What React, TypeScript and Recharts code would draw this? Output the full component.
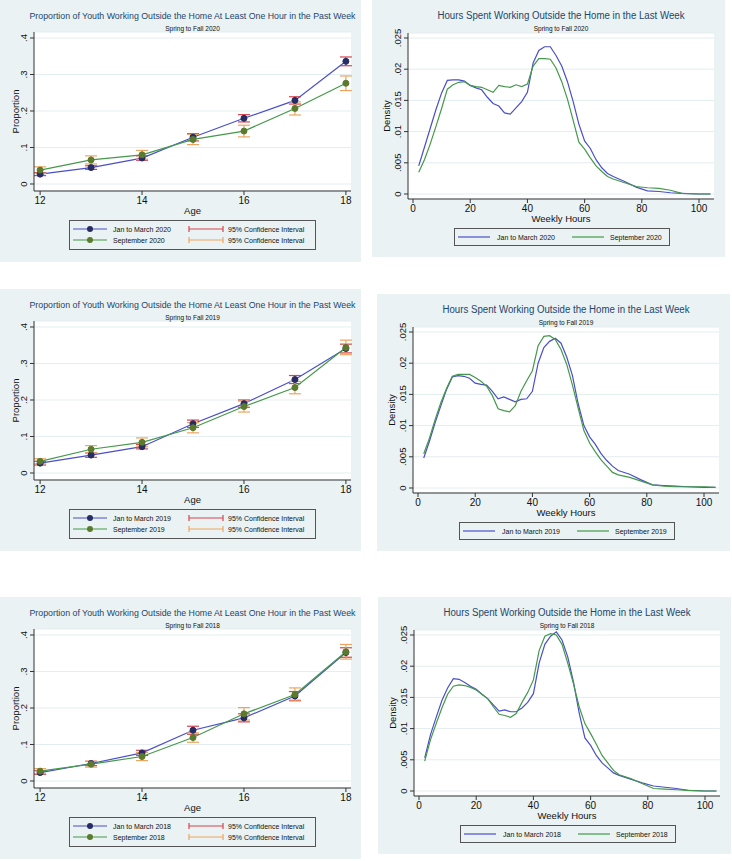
import React from 'react';
import { LineChart, Line, XAxis, YAxis, CartesianGrid, ErrorBar, Label } from 'recharts';

// ages on the x axis of the proportion panels
const AGES = [12, 13, 14, 15, 16, 17, 18];

// proportion working, with half-width of the 95% CI
const PROP_JAN_2020 = [0.027, 0.045, 0.071, 0.128, 0.18, 0.229, 0.336];
const CI_JAN_2020 = [0.004, 0.005, 0.006, 0.01, 0.01, 0.01, 0.012];
const PROP_SEP_2020 = [0.038, 0.066, 0.08, 0.122, 0.145, 0.207, 0.276];
const CI_SEP_2020 = [0.009, 0.011, 0.012, 0.014, 0.016, 0.018, 0.02];

const PROP_JAN_2019 = [0.027, 0.049, 0.072, 0.135, 0.19, 0.256, 0.341];
const CI_JAN_2019 = [0.005, 0.006, 0.006, 0.01, 0.01, 0.011, 0.012];
const PROP_SEP_2019 = [0.032, 0.065, 0.084, 0.124, 0.182, 0.234, 0.344];
const CI_SEP_2019 = [0.007, 0.01, 0.012, 0.014, 0.015, 0.017, 0.02];

const PROP_JAN_2018 = [0.023, 0.048, 0.077, 0.139, 0.173, 0.233, 0.352];
const CI_JAN_2018 = [0.005, 0.006, 0.007, 0.011, 0.011, 0.012, 0.013];
const PROP_SEP_2018 = [0.027, 0.046, 0.067, 0.119, 0.184, 0.237, 0.354];
const CI_SEP_2018 = [0.007, 0.008, 0.011, 0.013, 0.017, 0.018, 0.02];

// kernel density of weekly hours, read at these points
const HOURS = [2, 4, 6, 8, 10, 12, 14, 16, 18, 20, 22, 24, 26, 28, 30, 32, 34, 36, 38, 40, 42, 44, 46, 48, 50,
  52, 54, 56, 58, 60, 62, 64, 66, 68, 70, 74, 78, 82, 86, 90, 94, 100, 104];

const DENS_JAN_2020 = [0.0045, 0.0075, 0.0105, 0.0135, 0.0162, 0.0182, 0.0183, 0.0183, 0.0181, 0.0174, 0.017,
  0.0167, 0.0155, 0.0145, 0.0141, 0.013, 0.0128, 0.0138, 0.0148, 0.0163, 0.021, 0.023, 0.0236, 0.0236, 0.0222,
  0.0205, 0.018, 0.0148, 0.0112, 0.0085, 0.0073, 0.0055, 0.0042, 0.0033, 0.0028, 0.002, 0.0011, 0.0005, 0.0004,
  0.0002, 0.0001, 0, 0];
const DENS_SEP_2020 = [0.0035, 0.0055, 0.008, 0.0108, 0.0137, 0.0168, 0.0175, 0.0179, 0.018, 0.0174, 0.0172,
  0.0171, 0.0167, 0.0163, 0.0174, 0.0172, 0.0171, 0.0175, 0.0172, 0.0176, 0.0205, 0.0217, 0.0217, 0.0216, 0.0202,
  0.018, 0.0152, 0.0118, 0.0083, 0.0072, 0.0058, 0.0045, 0.0036, 0.0028, 0.0024, 0.0018, 0.0012, 0.001, 0.0009,
  0.0006, 0.0001, 0, 0];

const DENS_JAN_2019 = [0.0048, 0.0075, 0.0105, 0.0132, 0.0158, 0.0178, 0.018, 0.0179, 0.0176, 0.0168, 0.0166,
  0.0165, 0.0155, 0.0143, 0.0146, 0.0142, 0.0138, 0.0142, 0.0143, 0.0155, 0.02, 0.0225, 0.0235, 0.024, 0.0232,
  0.021, 0.018, 0.0135, 0.01, 0.0082, 0.007, 0.0055, 0.0044, 0.0035, 0.0028, 0.0022, 0.0013, 0.0005, 0.0004,
  0.0003, 0.0002, 0.0001, 0.0001];
const DENS_SEP_2019 = [0.0055, 0.008, 0.011, 0.0137, 0.016, 0.0179, 0.0182, 0.0182, 0.0182, 0.0177, 0.0171,
  0.0163, 0.0148, 0.0127, 0.0124, 0.0122, 0.0132, 0.0155, 0.0172, 0.0188, 0.0228, 0.0243, 0.0244, 0.0238, 0.0222,
  0.0198, 0.0165, 0.0128, 0.0092, 0.0072, 0.0058, 0.0045, 0.0035, 0.0025, 0.0021, 0.0017, 0.0011, 0.0005, 0.0003,
  0.0002, 0.0002, 0.0002, 0.0001];

const DENS_JAN_2018 = [0.0053, 0.009, 0.0118, 0.0145, 0.0165, 0.018, 0.0179, 0.0174, 0.0168, 0.0163, 0.0155,
  0.0148, 0.0138, 0.0128, 0.013, 0.0127, 0.0127, 0.0133, 0.0142, 0.0156, 0.0205, 0.0235, 0.0248, 0.0255, 0.0242,
  0.0215, 0.0175, 0.0125, 0.0085, 0.0073, 0.0057, 0.0045, 0.0037, 0.0029, 0.0025, 0.0019, 0.0013, 0.0008, 0.0006,
  0.0004, 0.0001, 0, 0];
const DENS_SEP_2018 = [0.0048, 0.0082, 0.0108, 0.0133, 0.0155, 0.0168, 0.017, 0.0169, 0.0166, 0.0162, 0.0155,
  0.0148, 0.0135, 0.0123, 0.0121, 0.0118, 0.0124, 0.0142, 0.0158, 0.0178, 0.0225, 0.0248, 0.0252, 0.025, 0.0235,
  0.0205, 0.0172, 0.0135, 0.0108, 0.0092, 0.0075, 0.0057, 0.0045, 0.0033, 0.0026, 0.002, 0.0012, 0.0004, 0.0003,
  0.0002, 0.0001, 0, 0];

const PROP_TICKS = [0, 0.1, 0.2, 0.3, 0.4];
const AGE_TICKS = [12, 14, 16, 18];
const DENS_TICKS = [0, 0.005, 0.01, 0.015, 0.02, 0.025];
const HOUR_TICKS = [0, 20, 40, 60, 80, 100];

const FONT = '"Liberation Sans", Arial, Helvetica, sans-serif';
const BG = '#eaf2f3';
const GRID = '#e4edef';
const BLUE = '#4a4fc8';
const GREEN = '#44994a';
const NAVY_MK = '#262c64';
const OLIVE_MK = '#5b7a2c';
const RED_CI = '#d8434e';
const ORANGE_CI = '#eea45e';
const TITLE = '#24466b';
const AXIS = '#333';

const stataNum = (v: number) => (v === 0 ? '0' : String(v).replace(/^0/, ''));

function RotTick(props: any) {
  const { x, y, payload } = props;
  const cx = x - 4;
  return (
    <text x={cx} y={y} transform={`rotate(-90 ${cx} ${y})`} textAnchor="middle" dominantBaseline="central"
      fontSize={9.5} fill="#111" fontFamily={FONT}>
      {stataNum(payload.value)}
    </text>
  );
}

function PropPanel({ left, top, year, jan, janCi, sep, sepCi }: any) {
  const W = 361;
  const H = 262;
  const data = AGES.map((a, i) => ({ age: a, jan: jan[i], janCi: janCi[i], sep: sep[i], sepCi: sepCi[i] }));
  return (
    <div style={{ position: 'absolute', left, top, width: W, height: H, background: BG }}>
      <LineChart width={W} height={H} data={data} margin={{ top: 32, right: 10, bottom: 31, left: 0 }}>
        <CartesianGrid vertical={false} stroke={GRID} fill="#fff" />
        <XAxis dataKey="age" type="number" domain={[11.88, 18.1]} ticks={AGE_TICKS} allowDataOverflow
          height={40} stroke={AXIS} tickSize={4} tickMargin={2}
          tick={{ fontSize: 10, fill: '#111', fontFamily: FONT }}>
          <Label value="Age" position="center" style={{ fontSize: 9.5, fill: '#111', fontFamily: FONT }} />
        </XAxis>
        <YAxis type="number" domain={[-0.0192, 0.4164]} ticks={PROP_TICKS} allowDataOverflow width={34}
          stroke={AXIS} tickSize={4} tickMargin={2} tick={(p: any) => <RotTick {...p} />}>
          <Label value="Proportion" angle={-90} position="center" dx={-1}
            style={{ fontSize: 9.5, fill: '#111', fontFamily: FONT }} />
        </YAxis>
        <Line dataKey="jan" type="linear" stroke={BLUE} strokeWidth={1.2} isAnimationActive={false}
          dot={{ r: 3, fill: NAVY_MK, stroke: NAVY_MK, strokeWidth: 1 }} activeDot={false}>
          <ErrorBar dataKey="janCi" direction="y" width={6} stroke={RED_CI} strokeWidth={1.2} />
        </Line>
        <Line dataKey="sep" type="linear" stroke={GREEN} strokeWidth={1.2} isAnimationActive={false}
          dot={{ r: 3, fill: OLIVE_MK, stroke: OLIVE_MK, strokeWidth: 1 }} activeDot={false}>
          <ErrorBar dataKey="sepCi" direction="y" width={6} stroke={ORANGE_CI} strokeWidth={1.2} />
        </Line>
      </LineChart>
      <svg width={W} height={H} style={{ position: 'absolute', left: 0, top: 0, pointerEvents: 'none', overflow: 'visible' }}
        fontFamily={FONT}>
        <text x={192.5} y={16} textAnchor="middle" dominantBaseline="central" fontSize={9} fill={TITLE}
          textLength={326} lengthAdjust="spacingAndGlyphs">
          Proportion of Youth Working Outside the Home At Least One Hour in the Past Week
        </text>
        <text x={192.5} y={28} textAnchor="middle" dominantBaseline="central" fontSize={6.5} fill="#111">
          Spring to Fall {year}
        </text>
        <rect x={69.5} y={220.5} width={246} height={29} fill="none" stroke="#555" />
        <line x1={73} x2={107} y1={229} y2={229} stroke={BLUE} strokeWidth={1.2} />
        <circle cx={90} cy={229} r={3} fill={NAVY_MK} />
        <text x={113} y={229} dominantBaseline="central" fontSize={7} fill="#111">Jan to March {year}</text>
        <line x1={73} x2={107} y1={240} y2={240} stroke={GREEN} strokeWidth={1.2} />
        <circle cx={90} cy={240} r={3} fill={OLIVE_MK} />
        <text x={113} y={240} dominantBaseline="central" fontSize={7} fill="#111">September {year}</text>
        <g stroke={RED_CI} strokeWidth={1.2}>
          <line x1={189} x2={223} y1={229} y2={229} />
          <line x1={189} x2={189} y1={226} y2={232} />
          <line x1={223} x2={223} y1={226} y2={232} />
        </g>
        <text x={228} y={229} dominantBaseline="central" fontSize={7} fill="#111">95% Confidence Interval</text>
        <g stroke={ORANGE_CI} strokeWidth={1.2}>
          <line x1={189} x2={223} y1={240} y2={240} />
          <line x1={189} x2={189} y1={237} y2={243} />
          <line x1={223} x2={223} y1={237} y2={243} />
        </g>
        <text x={228} y={240} dominantBaseline="central" fontSize={7} fill="#111">95% Confidence Interval</text>
      </svg>
    </div>
  );
}

function DensityPanel({ left, top, year, jan, sep }: any) {
  const W = 353;
  const H = 257;
  const data = HOURS.map((h, i) => ({ hours: h, jan: jan[i], sep: sep[i] }));
  return (
    <div style={{ position: 'absolute', left, top, width: W, height: H, background: BG }}>
      <LineChart width={W} height={H} data={data} margin={{ top: 33, right: 11, bottom: 18, left: 0 }}>
        <CartesianGrid vertical={false} stroke={GRID} fill="#fff" />
        <XAxis dataKey="hours" type="number" domain={[-1.75, 105.24]} ticks={HOUR_TICKS} allowDataOverflow
          height={40} stroke={AXIS} tickSize={4} tickMargin={2}
          tick={{ fontSize: 10, fill: '#111', fontFamily: FONT }}>
          <Label value="Weekly Hours" position="center" style={{ fontSize: 9.5, fill: '#111', fontFamily: FONT }} />
        </XAxis>
        <YAxis type="number" domain={[-0.0008, 0.0258]} ticks={DENS_TICKS} allowDataOverflow width={36}
          stroke={AXIS} tickSize={4} tickMargin={2} tick={(p: any) => <RotTick {...p} />}>
          <Label value="Density" angle={-90} position="center" dx={-3}
            style={{ fontSize: 9.5, fill: '#111', fontFamily: FONT }} />
        </YAxis>
        <Line dataKey="jan" type="linear" stroke={BLUE} strokeWidth={1.2} dot={false} activeDot={false}
          isAnimationActive={false} />
        <Line dataKey="sep" type="linear" stroke={GREEN} strokeWidth={1.2} dot={false} activeDot={false}
          isAnimationActive={false} />
      </LineChart>
      <svg width={W} height={H} style={{ position: 'absolute', left: 0, top: 0, pointerEvents: 'none', overflow: 'visible' }}
        fontFamily={FONT}>
        <text x={189} y={15} textAnchor="middle" dominantBaseline="central" fontSize={10} fill={TITLE}
          textLength={247} lengthAdjust="spacingAndGlyphs">
          Hours Spent Working Outside the Home in the Last Week
        </text>
        <text x={189} y={28} textAnchor="middle" dominantBaseline="central" fontSize={6.5} fill="#111">
          Spring to Fall {year}
        </text>
        <rect x={82.5} y={228.5} width={215} height={17} fill="none" stroke="#555" />
        <line x1={86} x2={118} y1={237} y2={237} stroke={BLUE} strokeWidth={1.2} />
        <text x={125} y={237} dominantBaseline="central" fontSize={7} fill="#111">Jan to March {year}</text>
        <line x1={200} x2={232} y1={237} y2={237} stroke={GREEN} strokeWidth={1.2} />
        <text x={238} y={237} dominantBaseline="central" fontSize={7} fill="#111">September {year}</text>
      </svg>
    </div>
  );
}

export default function App() {
  return (
    <div style={{ position: 'absolute', left: 0, top: 0, width: 732, height: 861, background: '#fff', fontFamily: FONT }}>
      <PropPanel left={0} top={0} year={2020} jan={PROP_JAN_2020} janCi={CI_JAN_2020} sep={PROP_SEP_2020} sepCi={CI_SEP_2020} />
      <DensityPanel left={372} top={0} year={2020} jan={DENS_JAN_2020} sep={DENS_SEP_2020} />
      <PropPanel left={0} top={289} year={2019} jan={PROP_JAN_2019} janCi={CI_JAN_2019} sep={PROP_SEP_2019} sepCi={CI_SEP_2019} />
      <DensityPanel left={377} top={294} year={2019} jan={DENS_JAN_2019} sep={DENS_SEP_2019} />
      <PropPanel left={0} top={597} year={2018} jan={PROP_JAN_2018} janCi={CI_JAN_2018} sep={PROP_SEP_2018} sepCi={CI_SEP_2018} />
      <DensityPanel left={378} top={597} year={2018} jan={DENS_JAN_2018} sep={DENS_SEP_2018} />
    </div>
  );
}
